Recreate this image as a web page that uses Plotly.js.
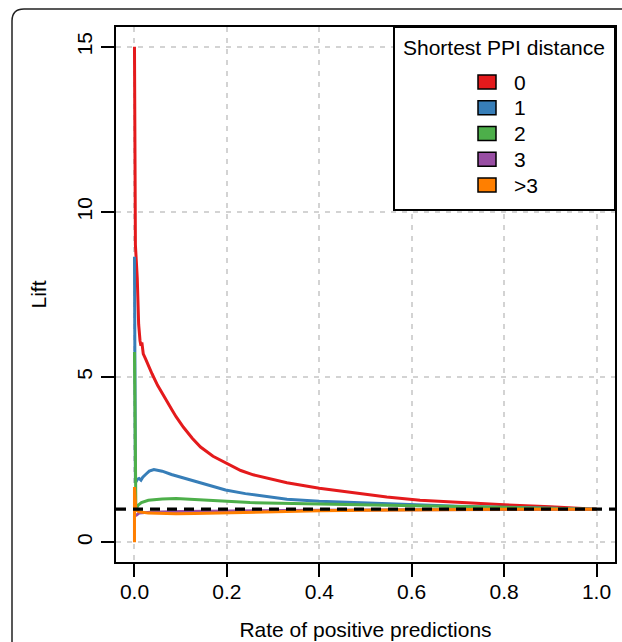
<!DOCTYPE html>
<html>
<head>
<meta charset="utf-8">
<script src="https://cdn.plot.ly/plotly-3.0.1.min.js"></script>
<style>
  html, body { margin: 0; padding: 0; background: #ffffff; }
  #chart { width: 622px; height: 642px; }
</style>
</head>
<body>
<div id="chart"></div>
<script>
// ---- data ----
const seriesNames = ["0", "1", "2", "3", ">3"];
const seriesColors = ["#E41A1C", "#377EB8", "#4DAF4A", "#984EA3", "#FF7F00"];

const xDist0 = [0, 0.002, 0.006, 0.009, 0.012, 0.014, 0.016, 0.019, 0.024, 0.030, 0.038, 0.050, 0.060, 0.070, 0.080, 0.090, 0.106, 0.125, 0.143, 0.170, 0.197, 0.230, 0.257, 0.300, 0.330, 0.400, 0.474, 0.546, 0.618, 0.700, 0.800, 0.900, 1.000];
const yDist0 = [15, 9.0, 8.0, 6.6, 6.1, 5.95, 6.05, 5.7, 5.55, 5.35, 5.1, 4.75, 4.5, 4.27, 4.03, 3.8, 3.48, 3.15, 2.88, 2.6, 2.4, 2.17, 2.04, 1.9, 1.8, 1.63, 1.49, 1.37, 1.27, 1.2, 1.13, 1.07, 1.0];

const xDist1 = [0, 0.002, 0.006, 0.010, 0.014, 0.018, 0.024, 0.032, 0.042, 0.060, 0.080, 0.100, 0.125, 0.160, 0.197, 0.240, 0.300, 0.330, 0.400, 0.470, 0.546, 0.618, 0.700, 0.800, 0.900, 1.000];
const yDist1 = [8.64, 1.8, 1.9, 1.93, 1.88, 1.97, 2.05, 2.15, 2.2, 2.15, 2.05, 1.97, 1.88, 1.73, 1.58, 1.47, 1.35, 1.3, 1.24, 1.2, 1.16, 1.12, 1.09, 1.06, 1.03, 1.0];

const xDist2 = [0, 0.003, 0.008, 0.015, 0.030, 0.060, 0.090, 0.130, 0.197, 0.250, 0.400, 0.500, 0.618, 0.800, 1.000];
const yDist2 = [5.76, 1.0, 1.12, 1.2, 1.27, 1.31, 1.32, 1.29, 1.23, 1.2, 1.16, 1.13, 1.1, 1.05, 1.0];

const xDist3 = [0, 0.004, 0.010, 0.035, 0.100, 0.200, 0.400, 0.600, 0.800, 1.000];
const yDist3 = [0.8, 0.82, 0.88, 0.91, 0.93, 0.95, 0.97, 0.98, 0.99, 1.0];

const xDist4 = [0, 0, 0.003, 0.010, 0.030, 0.060, 0.090, 0.130, 0.190, 0.300, 0.400, 0.500, 0.618, 0.800, 1.000];
const yDist4 = [0, 1.67, 0.98, 0.92, 0.88, 0.87, 0.86, 0.87, 0.89, 0.92, 0.95, 0.97, 0.99, 1.0, 1.0];

const xTicks = [0, 0.2, 0.4, 0.6, 0.8, 1.0];
const xTickLabels = ["0.0", "0.2", "0.4", "0.6", "0.8", "1.0"];
const yTicks = [0, 5, 10, 15];
const yTickLabels = ["0", "5", "10", "15"];
const baselineLift = 1;

const legendTitle = "Shortest PPI distance";
const xTitle = "Rate of positive predictions";
const yTitle = "Lift";

// ---- build ----
const xs = [xDist0, xDist1, xDist2, xDist3, xDist4];
const ys = [yDist0, yDist1, yDist2, yDist3, yDist4];
const FONT = "Liberation Sans, Arial, Helvetica, sans-serif";

const traces = xs.map((x, i) => ({
  x: x, y: ys[i], type: "scatter", mode: "lines",
  name: seriesNames[i],
  line: { color: seriesColors[i], width: 3 },
  showlegend: false, hoverinfo: "skip"
}));

// plot area geometry (px) for paper conversions
const L = 116, R = 7, T = 27, B = 80, W = 622, H = 642;
const pw = W - L - R, ph = H - T - B;
const px2x = p => (p - L) / pw;
const py2y = p => (H - B - p) / ph;

const shapes = [];
const annotations = [];

// outer rounded frame
const fx0 = px2x(12), fy0 = py2y(9), rx = 12 / pw, ry = 12 / ph;
shapes.push({
  type: "path", xref: "paper", yref: "paper", layer: "below",
  path: `M ${fx0} ${py2y(660)} L ${fx0} ${fy0 - ry} Q ${fx0} ${fy0} ${fx0 + rx} ${fy0} L ${px2x(640)} ${fy0}`,
  line: { color: "#222222", width: 1.5 }
});

// baseline dashed line
shapes.push({
  type: "line", xref: "paper", yref: "y", x0: 0, x1: 1, y0: baselineLift, y1: baselineLift,
  layer: "above", line: { color: "#000000", width: 3.2, dash: "10px,7px" }
});

// legend box
shapes.push({
  type: "rect", xref: "paper", yref: "paper",
  x0: px2x(394), x1: 1, y0: py2y(210), y1: 1,
  layer: "above", fillcolor: "#ffffff", line: { color: "#000000", width: 2 }
});
annotations.push({
  xref: "paper", yref: "paper", x: px2x(504), y: py2y(47),
  text: legendTitle, showarrow: false, xanchor: "center", yanchor: "middle",
  font: { family: FONT, size: 21, color: "#000000" }
});
seriesNames.forEach((nm, i) => {
  const cy = 82 + 25.75 * i;
  shapes.push({
    type: "rect", xref: "paper", yref: "paper",
    x0: px2x(478), x1: px2x(496), y0: py2y(cy + 7), y1: py2y(cy - 7),
    layer: "above", fillcolor: seriesColors[i], line: { color: "#000000", width: 1.5 }
  });
  annotations.push({
    xref: "paper", yref: "paper", x: px2x(512), y: py2y(cy),
    text: nm, showarrow: false, xanchor: "left", yanchor: "middle",
    font: { family: FONT, size: 21, color: "#000000" }
  });
});

const layout = {
  width: W, height: H,
  margin: { l: L, r: R, t: T, b: B, pad: 0 },
  paper_bgcolor: "#ffffff", plot_bgcolor: "#ffffff",
  font: { family: FONT, size: 21, color: "#000000" },
  xaxis: {
    range: [-0.04, 1.04], tickmode: "array", tickvals: xTicks, ticktext: xTickLabels,
    showline: true, mirror: true, linecolor: "#000000", linewidth: 2,
    ticks: "outside", ticklen: 13, tickwidth: 2, tickcolor: "#000000",
    showgrid: true, gridcolor: "#d3d3d3", gridwidth: 2, griddash: "5px,6px",
    zeroline: false, automargin: false, ticklabelstandoff: -3,
    tickfont: { family: FONT, size: 21, color: "#000000" },
    title: { text: xTitle, standoff: 20, font: { family: FONT, size: 21, color: "#000000" } }
  },
  yaxis: {
    range: [-0.6, 15.6], tickmode: "array", tickvals: yTicks, ticktext: yTickLabels,
    showline: true, mirror: true, linecolor: "#000000", linewidth: 2,
    ticks: "outside", ticklen: 13, tickwidth: 2, tickcolor: "#000000",
    showgrid: true, gridcolor: "#d3d3d3", gridwidth: 2, griddash: "5px,6px",
    zeroline: false, automargin: false, tickangle: -90, ticklabelstandoff: 1,
    tickfont: { family: FONT, size: 21, color: "#000000" },
    title: { text: yTitle, standoff: 20, font: { family: FONT, size: 21, color: "#000000" } }
  },
  shapes: shapes,
  annotations: annotations,
  showlegend: false
};

Plotly.newPlot("chart", traces, layout, { displayModeBar: false, staticPlot: true });
</script>
</body>
</html>
